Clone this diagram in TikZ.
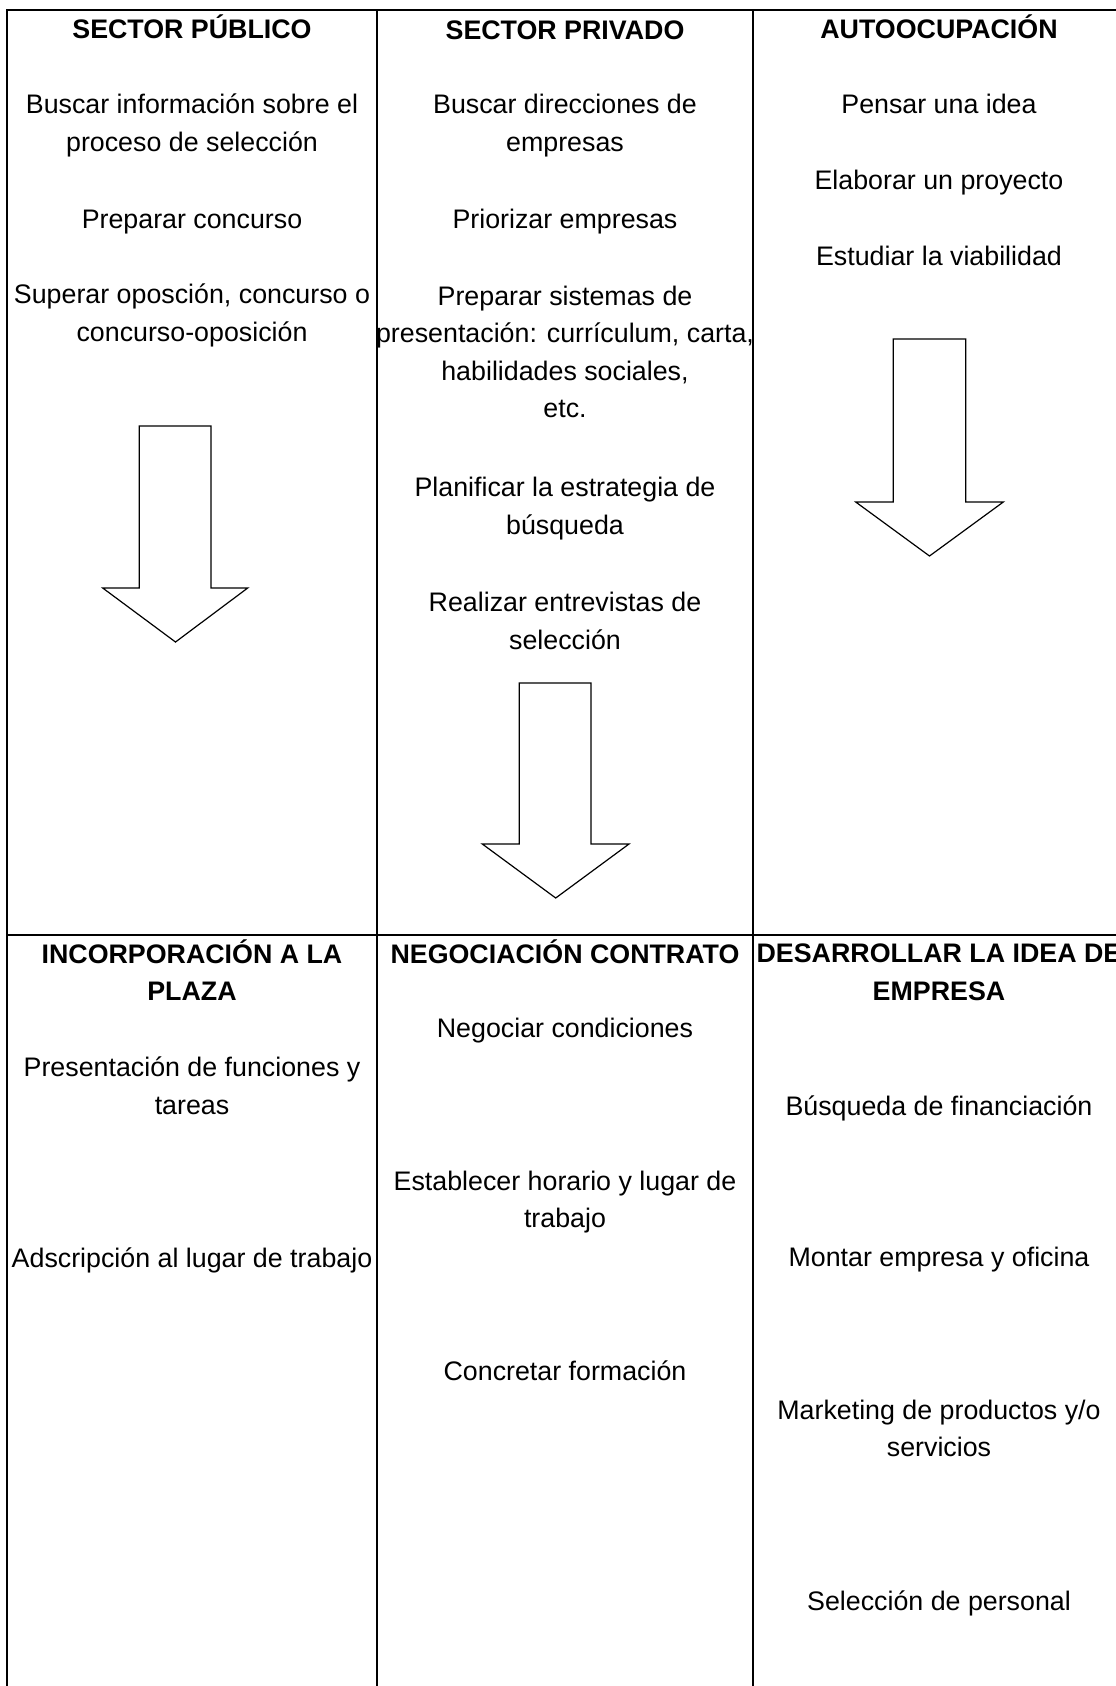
\documentclass[tikz,border=0pt]{standalone}
\usepackage{fontspec}
\setmainfont{Liberation Sans}
\usepackage{tikz}

\begin{document}
\begin{tikzpicture}[x=0.5pt, y=-0.5pt,
    every node/.style={font=\fontsize{13.4}{18.8}\selectfont, align=center, inner sep=0pt},
    title/.style={font=\fontsize{13.4}{18.8}\selectfont\bfseries},
    rule/.style={line width=1pt},
    blockarrow/.style={line width=0.6pt, fill=white}]
  \useasboundingbox (0,0) rectangle (1115,1686);
  % table
  \draw[rule] (7,1700) -- (7,10) -- (1130,10);
  \draw[rule] (377,10) -- (377,1700);
  \draw[rule] (753,10) -- (753,1700);
  \draw[rule] (7,935) -- (1130,935);

  % sector publico
  \node[title] (SP) at (192,27) {SECTOR PÚBLICO};
  \node (SP1) at (192,125.5) {Buscar información sobre el\\proceso de selección};
  \node (SP2) at (192,222) {Preparar concurso};
  \node (SP3) at (192,315.5) {Superar oposción, concurso o\\concurso-oposición};
  \draw[blockarrow] (139.3,426) -- (211,426) -- (211,588) -- (247.7,588) -- (175.5,642)
    -- (102.7,588) -- (139.3,588) -- cycle;

  % sector privado
  \node[title] (SV) at (565,30) {SECTOR PRIVADO};
  \node (SV1) at (565,125.5) {Buscar direcciones de\\empresas};
  \node (SV2) at (565,222) {Priorizar empresas};
  \node (SV3) at (565,352) {Preparar sistemas de\\presentación: currículum, carta,\\habilidades sociales,\\etc.};
  \node (SV4) at (565,508.5) {Planificar la estrategia de\\búsqueda};
  \node (SV5) at (565,621) {Realizar entrevistas de\\selección};
  \draw[blockarrow] (519.3,683) -- (591,683) -- (591,844) -- (629,844) -- (555.7,898)
    -- (482.3,844) -- (519.3,844) -- cycle;

  % autoocupacion
  \node[title] (AU) at (939,27) {AUTOOCUPACIÓN};
  \node (AU1) at (939,104) {Pensar una idea};
  \node (AU2) at (939,183) {Elaborar un proyecto};
  \node (AU3) at (939,256) {Estudiar la viabilidad};
  \draw[blockarrow] (893.3,339) -- (965.7,339) -- (965.7,502) -- (1003.3,502) -- (929.5,556)
    -- (855.7,502) -- (893.3,502) -- cycle;

  % segunda fila
  \node[title] (IP) at (192,970) {INCORPORACIÓN A LA\\PLAZA};
  \node (IP1) at (192,1085.5) {Presentación de funciones y\\tareas};
  \node (IP2) at (192,1260) {Adscripción al lugar de trabajo};

  \node[title] (NC) at (565,952) {NEGOCIACIÓN CONTRATO};
  \node (NC1) at (565,1031) {Negociar condiciones};
  \node (NC2) at (565,1202) {Establecer horario y lugar de\\trabajo};
  \node (NC3) at (565,1371) {Concretar formación};

  \node[title] (DE) at (939,972.5) {DESARROLLAR LA IDEA DE\\EMPRESA};
  \node (DE1) at (939,1108) {Búsqueda de financiación};
  \node (DE2) at (939,1260) {Montar empresa y oficina};
  \node (DE3) at (939,1428.5) {Marketing de productos y/o\\servicios};
  \node (DE4) at (939,1603) {Selección de personal};
\end{tikzpicture}
\end{document}
